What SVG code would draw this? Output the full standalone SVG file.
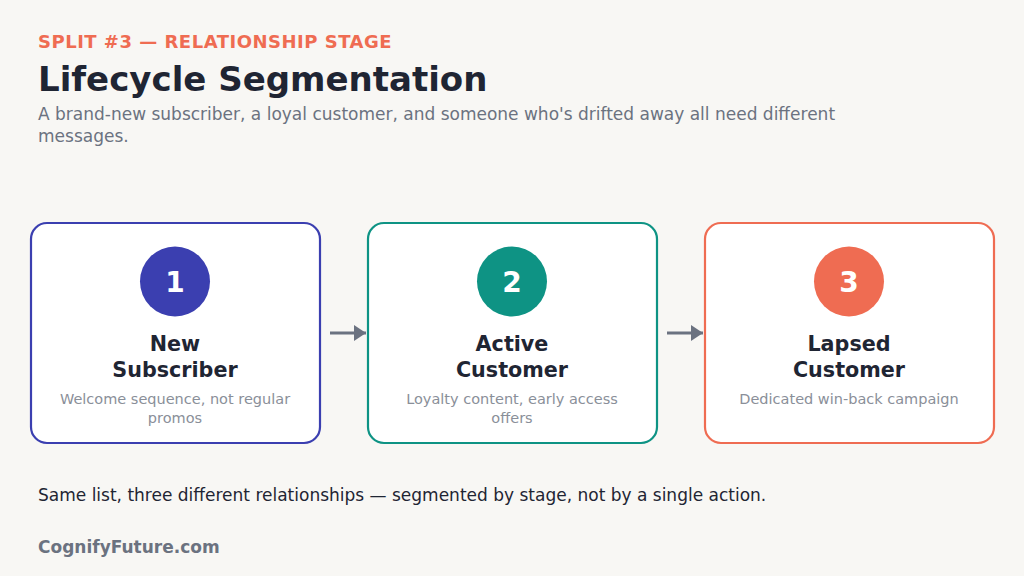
<svg xmlns="http://www.w3.org/2000/svg" width="1024" height="576" viewBox="0 0 1024 576">
<defs>
<marker id="ah" viewBox="0 0 12 16" refX="12" refY="8" markerWidth="12" markerHeight="16" orient="auto" markerUnits="userSpaceOnUse">
<path d="M0,0 L12,8 L0,16 z" fill="#6b7280"/>
</marker>
<style>
text{font-family:"DejaVu Sans","Noto Sans",sans-serif}
.kick{font-size:18px;font-weight:bold;fill:#ef6c52;letter-spacing:0.5px}
.title{font-size:34px;font-weight:bold;fill:#1f2533}
.sub{font-size:17px;fill:#6b7280}
.box{fill:#ffffff;stroke-width:2.2}
.num{font-size:28px;font-weight:bold;fill:#ffffff;text-anchor:middle}
.lbl{font-size:20.7px;font-weight:bold;fill:#1f2533;text-anchor:middle}
.desc{font-size:14.5px;fill:#8a8f99;text-anchor:middle}
.conn{stroke:#6b7280;stroke-width:3;fill:none}
.foot{font-size:17px;fill:#1f2533}
.brand{font-size:17px;font-weight:bold;fill:#6b7280}
</style>
</defs>
<rect width="1024" height="576" fill="#f8f7f4"/>
<text class="kick" x="38" y="48">SPLIT #3 — RELATIONSHIP STAGE</text>
<text class="title" x="38" y="91">Lifecycle Segmentation</text>
<text class="sub" x="38" y="120">A brand-new subscriber, a loyal customer, and someone who's drifted away all need different</text>
<text class="sub" x="38" y="142">messages.</text>
<g id="connectors">
<line class="conn" x1="330" y1="333" x2="366" y2="333" marker-end="url(#ah)"/>
<line class="conn" x1="667" y1="333" x2="703" y2="333" marker-end="url(#ah)"/>
</g>
<g id="node1">
<rect class="box" x="31" y="223" width="289" height="220" rx="16" stroke="#3b3fb0"/>
<circle cx="175" cy="281.5" r="35" fill="#3b3fb0"/>
<text class="num" x="175" y="292">1</text>
<text class="lbl" x="175" y="351">New</text>
<text class="lbl" x="175" y="377">Subscriber</text>
<text class="desc" x="175" y="404">Welcome sequence, not regular</text>
<text class="desc" x="175" y="423">promos</text>
</g>
<g id="node2">
<rect class="box" x="368" y="223" width="289" height="220" rx="16" stroke="#0e9384"/>
<circle cx="512" cy="281.5" r="35" fill="#0e9384"/>
<text class="num" x="512" y="292">2</text>
<text class="lbl" x="512" y="351">Active</text>
<text class="lbl" x="512" y="377">Customer</text>
<text class="desc" x="512" y="404">Loyalty content, early access</text>
<text class="desc" x="512" y="423">offers</text>
</g>
<g id="node3">
<rect class="box" x="705" y="223" width="289" height="220" rx="16" stroke="#ef6c52"/>
<circle cx="849" cy="281.5" r="35" fill="#ef6c52"/>
<text class="num" x="849" y="292">3</text>
<text class="lbl" x="849" y="351">Lapsed</text>
<text class="lbl" x="849" y="377">Customer</text>
<text class="desc" x="849" y="404">Dedicated win-back campaign</text>
</g>
<text class="foot" x="38" y="501">Same list, three different relationships — segmented by stage, not by a single action.</text>
<text class="brand" x="38" y="553">CognifyFuture.com</text>
</svg>
